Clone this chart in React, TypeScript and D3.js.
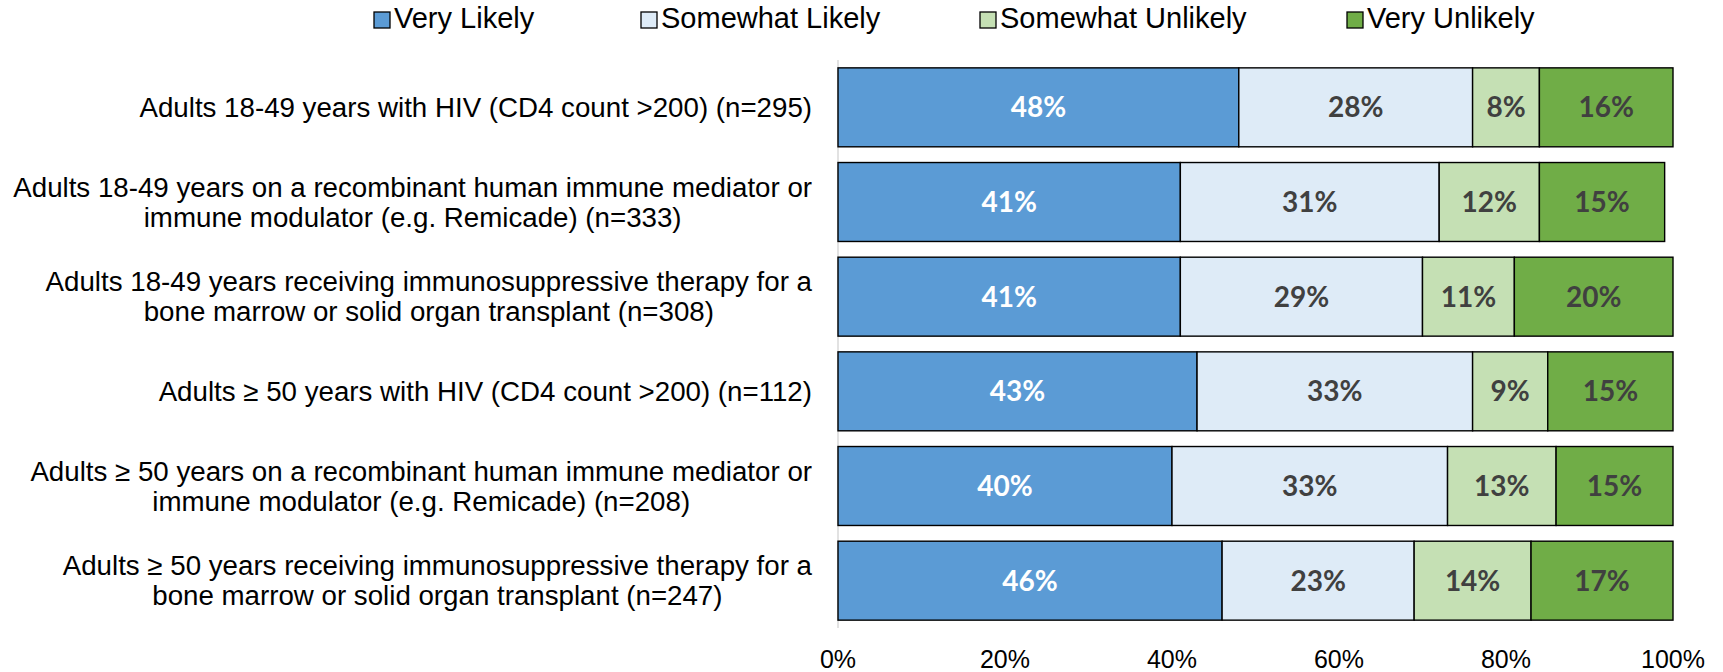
import React, { useEffect, useRef } from "react";
import * as d3 from "d3";

const categories: string[][] = [
  ["Adults 18-49 years with HIV (CD4 count >200) (n=295)"],
  ["Adults 18-49 years on a recombinant human immune mediator or", "immune modulator (e.g. Remicade) (n=333)"],
  ["Adults 18-49 years receiving immunosuppressive therapy for a", "bone marrow or solid organ transplant (n=308)"],
  ["Adults \u2265 50 years with HIV (CD4 count >200) (n=112)"],
  ["Adults \u2265 50 years on a recombinant human immune mediator or", "immune modulator (e.g. Remicade) (n=208)"],
  ["Adults \u2265 50 years receiving immunosuppressive therapy for a", "bone marrow or solid organ transplant (n=247)"],
];

const seriesNames = ["Very Likely", "Somewhat Likely", "Somewhat Unlikely", "Very Unlikely"];
const veryLikely = [48, 41, 41, 43, 40, 46];
const somewhatLikely = [28, 31, 29, 33, 33, 23];
const somewhatUnlikely = [8, 12, 11, 9, 13, 14];
const veryUnlikely = [16, 15, 20, 15, 15, 17];
const xTicks = [0, 20, 40, 60, 80, 100];

const colors = ["#5B9BD5", "#DEEBF7", "#C5E0B4", "#70AD47"];
const labelColors = ["#FFFFFF", "#404040", "#404040", "#404040"];

export default function App() {
  const ref = useRef<SVGSVGElement | null>(null);

  useEffect(() => {
    document.body.style.margin = "0";
    const svg = d3.select(ref.current!);
    svg.selectAll("*").remove();

    const W = 1723, H = 672;
    const left = 838, right = 1673, top = 60, bottom = 628;
    const series = [veryLikely, somewhatLikely, somewhatUnlikely, veryUnlikely];
    const ids = categories.map((_, i) => String(i));

    const x = d3.scaleLinear().domain([0, 100]).range([left, right]);
    const y = d3.scaleBand<string>().domain(ids).range([top, bottom]).paddingInner(0.166).paddingOuter(0.083);

    svg.append("rect").attr("width", W).attr("height", H).attr("fill", "#fff");

    // axis line
    svg.append("line")
      .attr("x1", left).attr("x2", left).attr("y1", top).attr("y2", bottom)
      .attr("stroke", "#D9D9D9").attr("stroke-width", 1.5);

    // bars
    const g = svg.append("g");
    ids.forEach((id, i) => {
      let cum = 0;
      series.forEach((s, k) => {
        const v = s[i];
        const x0 = Math.min(cum, 100);
        const x1 = Math.min(cum + v, 100);
        cum += v;
        const by = y(id)!;
        g.append("rect")
          .attr("x", x(x0)).attr("y", by)
          .attr("width", x(x1) - x(x0)).attr("height", y.bandwidth())
          .attr("fill", colors[k]).attr("stroke", "#000").attr("stroke-width", 1.4);
        g.append("text")
          .attr("x", (x(x0) + x(x1)) / 2)
          .attr("y", by + y.bandwidth() / 2)
          .attr("dy", "0.36em")
          .attr("text-anchor", "middle")
          .attr("font-family", "Lato, 'Open Sans', sans-serif")
          .attr("font-weight", 700)
          .attr("font-size", 28)
          .attr("fill", labelColors[k])
          .text(`${v}%`);
      });
    });

    // category labels
    const labelRight = 812;
    const lineH = 30;
    ids.forEach((id, i) => {
      const lines = categories[i];
      const cy = y(id)! + y.bandwidth() / 2;
      const t = svg.append("text")
        .attr("font-family", "'Liberation Sans', Arial, sans-serif")
        .attr("font-size", 27.7)
        .attr("fill", "#000")
        .attr("text-anchor", "middle");
      const tspans = lines.map((ln, j) =>
        t.append("tspan")
          .attr("y", cy + (j - (lines.length - 1) / 2) * lineH)
          .attr("dy", "0.35em")
          .text(ln)
      );
      let maxW = 0;
      tspans.forEach((ts) => {
        maxW = Math.max(maxW, (ts.node() as SVGTSpanElement).getComputedTextLength());
      });
      const cx = labelRight - maxW / 2;
      tspans.forEach((ts) => ts.attr("x", cx));
    });

    // x tick labels
    svg.append("g").selectAll("text").data(xTicks).join("text")
      .attr("x", (d) => x(d))
      .attr("y", 668)
      .attr("text-anchor", "middle")
      .attr("font-family", "'Liberation Sans', Arial, sans-serif")
      .attr("font-size", 25)
      .attr("fill", "#000")
      .text((d) => `${d}%`);

    // legend
    const legendX = [374, 641, 980, 1347];
    const boxSize = 16;
    seriesNames.forEach((name, k) => {
      const lx = legendX[k];
      svg.append("rect")
        .attr("x", lx).attr("y", 12).attr("width", boxSize).attr("height", boxSize)
        .attr("fill", colors[k]).attr("stroke", "#000").attr("stroke-width", 1.3);
      svg.append("text")
        .attr("x", lx + boxSize + 4).attr("y", 28)
        .attr("font-family", "'Liberation Sans', Arial, sans-serif")
        .attr("font-size", 29)
        .attr("fill", "#000")
        .text(name);
    });
  }, []);

  return <svg ref={ref} width={1723} height={672} style={{ display: "block" }} />;
}
